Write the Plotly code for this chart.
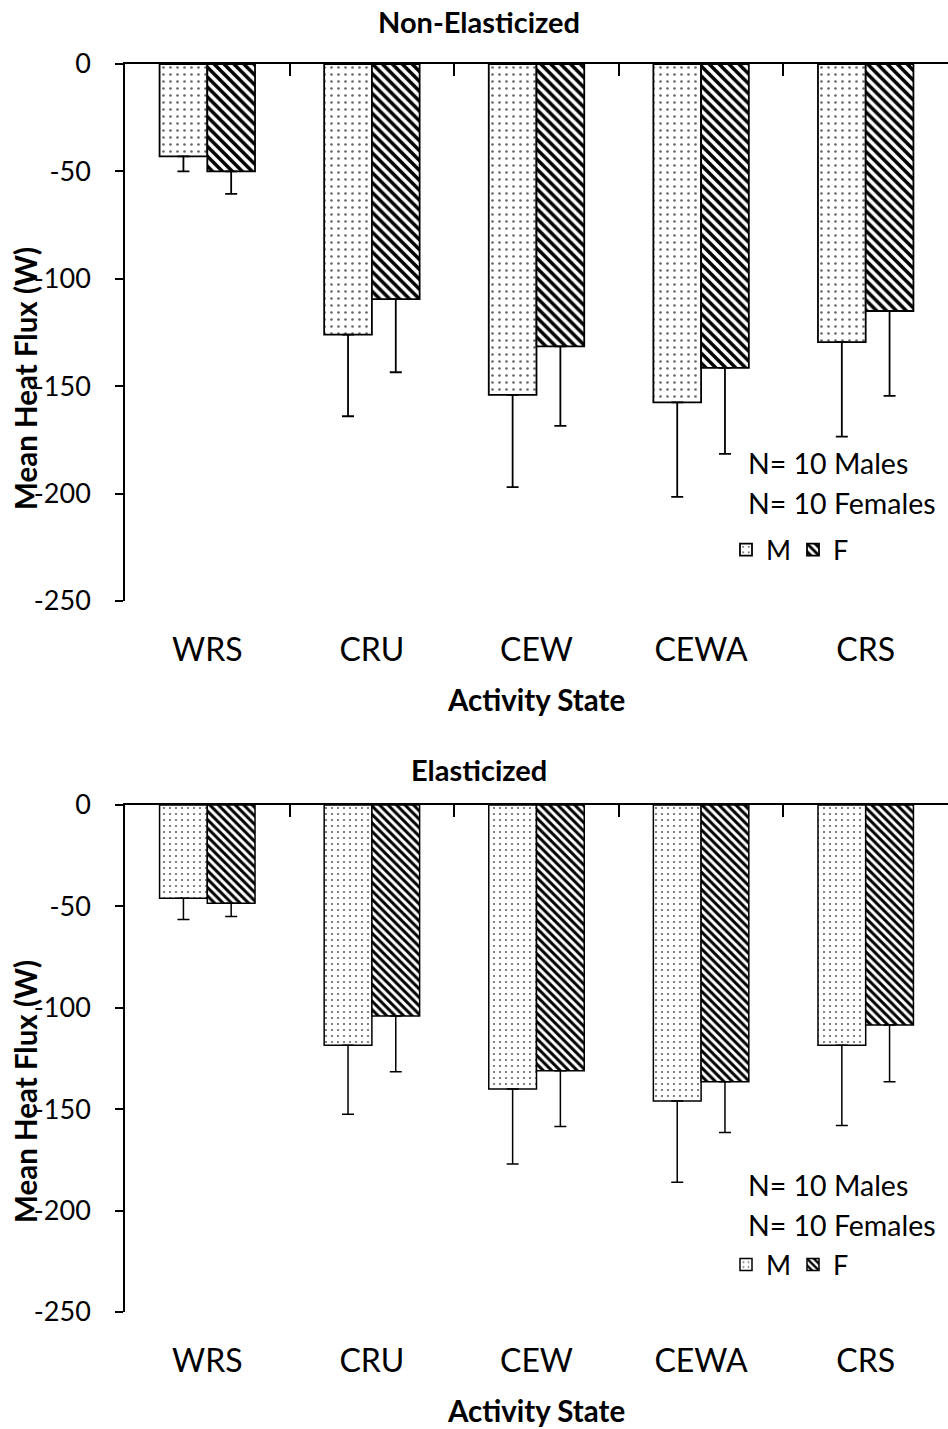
import plotly.graph_objects as go

W, H = 948, 1429

categories = ["WRS", "CRU", "CEW", "CEWA", "CRS"]
series_names = ["M", "F"]

non_elastic_male = [-43, -126, -154, -157.5, -129.5]
non_elastic_male_sd = [7, 38, 43, 44, 44]
non_elastic_female = [-50, -109.5, -131.5, -141.5, -115]
non_elastic_female_sd = [10.5, 34, 37, 40, 39.5]

elastic_male = [-46, -118.5, -140, -146, -118.5]
elastic_male_sd = [10.5, 34, 37, 40, 39.5]
elastic_female = [-48.5, -104, -131, -136.5, -108.5]
elastic_female_sd = [6.5, 27.5, 27.5, 25, 28]

y_ticks = [0, -50, -100, -150, -200, -250]
panel_titles = ["Non-Elasticized", "Elasticized"]
x_title = "Activity State"
y_title = "Mean Heat Flux (W)"
n_text = ["N= 10 Males", "N= 10 Females"]

FONT = "Lato"


def py(px):
    return 1 - px / H


def pxx(px):
    return px / W


fig = go.Figure()

panels = [
    dict(m=non_elastic_male, msd=non_elastic_male_sd, f=non_elastic_female, fsd=non_elastic_female_sd,
         xa="x", ya="y", xo="x2", legend="legend", lw=1.8, ps=7),
    dict(m=elastic_male, msd=elastic_male_sd, f=elastic_female, fsd=elastic_female_sd,
         xa="x3", ya="y2", xo="x4", legend="legend2", lw=1.5, ps=6),
]

for p in panels:
    fig.add_trace(go.Bar(
        x=categories, y=p["m"], name=series_names[0], xaxis=p["xa"], yaxis=p["ya"],
        legend=p["legend"],
        marker=dict(color="white", line=dict(color="black", width=p["lw"]),
                    pattern=dict(shape=".", fgcolor="#666666", bgcolor="white",
                                 size=p["ps"], solidity=0.11, fillmode="replace")),
        error_y=dict(type="data", symmetric=False, array=[0] * len(categories),
                     arrayminus=p["msd"], color="black", thickness=p["lw"], width=6),
    ))
    fig.add_trace(go.Bar(
        x=categories, y=p["f"], name=series_names[1], xaxis=p["xa"], yaxis=p["ya"],
        legend=p["legend"],
        marker=dict(color="white", line=dict(color="black", width=p["lw"]),
                    pattern=dict(shape="\\", fgcolor="black", bgcolor="white",
                                 size=p["ps"], solidity=0.5, fillmode="replace")),
        error_y=dict(type="data", symmetric=False, array=[0] * len(categories),
                     arrayminus=p["fsd"], color="black", thickness=p["lw"], width=6),
    ))
    # empty trace to hold the top boundary-tick axis
    fig.add_trace(go.Scatter(x=[], y=[], xaxis=p["xo"], yaxis=p["ya"], showlegend=False,
                             hoverinfo="skip"))

xdom = [125 / W, 1.0]
top_dom = [py(601), py(64)]
bot_dom = [py(1312), py(805)]

cat_axis = dict(showline=False, ticks="", showgrid=False, zeroline=False,
                tickfont=dict(family=FONT, size=32, color="black"),
                ticklabelstandoff=27, range=[-0.5, 4.5], domain=xdom)
bound_axis = dict(showline=True, linecolor="black", linewidth=1.6, ticks="inside",
                  ticklen=12, tickwidth=1.5, tickcolor="black", showticklabels=False,
                  tickvals=[-0.5, 0.5, 1.5, 2.5, 3.5, 4.5], range=[-0.5, 4.5],
                  showgrid=False, zeroline=False, side="top", domain=xdom)
val_axis = dict(range=[-250, 0], tickvals=y_ticks, ticktext=[str(v) for v in y_ticks],
                showline=True, linecolor="black", linewidth=1.5, ticks="outside",
                ticklen=8, tickwidth=1.5, tickcolor="black", showgrid=False,
                zeroline=False, tickfont=dict(family=FONT, size=27, color="black"),
                ticklabelstandoff=19)

legend_common = dict(orientation="h", xanchor="left", yanchor="middle",
                     font=dict(family=FONT, size=27, color="black"), bgcolor="rgba(0,0,0,0)",
                     itemwidth=30, tracegroupgap=0, entrywidth=22, entrywidthmode="pixels")

fig.update_layout(
    width=W, height=H, margin=dict(l=0, r=0, t=0, b=0, autoexpand=False),
    paper_bgcolor="white", plot_bgcolor="white",
    barmode="group", bargap=0.42, bargroupgap=0,
    font=dict(family=FONT, color="black"),
    xaxis=dict(**cat_axis, anchor="y"),
    xaxis2=dict(**bound_axis, overlaying="x", anchor="y"),
    yaxis=dict(**val_axis, domain=top_dom, anchor="x"),
    xaxis3=dict(**cat_axis, anchor="y2"),
    xaxis4=dict(**bound_axis, overlaying="x3", anchor="y2"),
    yaxis2=dict(**val_axis, domain=bot_dom, anchor="x3"),
    legend=dict(**legend_common, x=pxx(726), y=py(550)),
    legend2=dict(**legend_common, x=pxx(726), y=py(1265)),
    showlegend=True,
)

ann = []
for title, ty, xt_y, yt_y, n1, n2 in [
    (panel_titles[0], 22, 699, 379, 463, 503),
    (panel_titles[1], 769, 1410, 1092, 1185, 1225),
]:
    ann.append(dict(text=f"<b>{title}</b>", x=pxx(479), y=py(ty), xref="paper", yref="paper",
                    showarrow=False, font=dict(family=FONT, size=29, color="black"),
                    xanchor="center", yanchor="middle"))
    ann.append(dict(text=f"<b>{x_title}</b>", x=pxx(536), y=py(xt_y), xref="paper", yref="paper",
                    showarrow=False, font=dict(family=FONT, size=29.5, color="black"),
                    xanchor="center", yanchor="middle"))
    ann.append(dict(text=f"<b>{y_title}</b>", x=pxx(25), y=py(yt_y), xref="paper", yref="paper",
                    showarrow=False, textangle=-90, font=dict(family=FONT, size=29.5, color="black"),
                    xanchor="center", yanchor="middle"))
    ann.append(dict(text=n_text[0], x=pxx(746), y=py(n1), xref="paper", yref="paper",
                    showarrow=False, font=dict(family=FONT, size=28.5, color="black"),
                    xanchor="left", yanchor="middle"))
    ann.append(dict(text=n_text[1], x=pxx(746), y=py(n2), xref="paper", yref="paper",
                    showarrow=False, font=dict(family=FONT, size=28.5, color="black"),
                    xanchor="left", yanchor="middle"))
fig.update_layout(annotations=ann)

fig.write_html("out.html")
